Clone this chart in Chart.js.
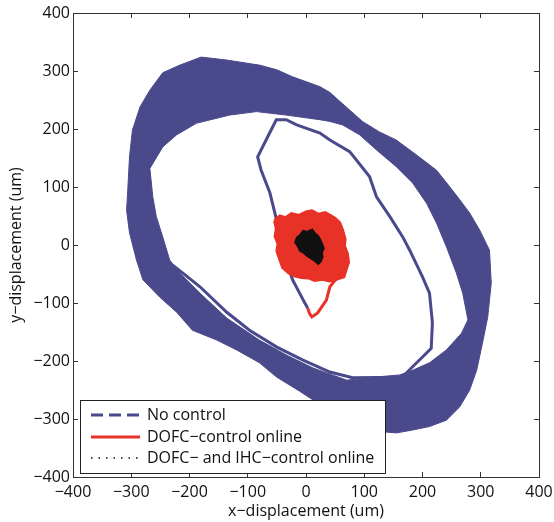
<!DOCTYPE html>
<html><head><meta charset="utf-8">
<script src="https://cdn.jsdelivr.net/npm/chart.js@4/dist/chart.umd.min.js"></script>
<style>html,body{margin:0;padding:0;background:#fff}canvas{display:block}</style>
</head><body>
<canvas id="c" width="554" height="522"></canvas>
<script>
// ---- data (micrometres) ----
const seriesNames = ['No control', 'DOFC\u2212control online', 'DOFC\u2212 and IHC\u2212control online'];
const axisTicks = [-400, -300, -200, -100, 0, 100, 200, 300, 400];

// steady-state "no control" orbit: outer and inner edge of the band
const bandOuter = [[-180,324],[-137,319],[-79,310],[-50,302],[-23,290],[24,273],[41,263],[69,238],[97,213],[126,195],[155,181],[190,155],[224,129],[247,100],[264,78],[281,55],[298,26],[315,-9],[318,-66],[312,-124],[303,-169],[293,-216],[281,-250],[264,-279],[241,-302],[212,-313],[183,-319],[155,-324],[132,-322],[99,-302],[49,-283],[18,-271],[-11,-252],[-50,-228],[-80,-203],[-119,-181],[-153,-164],[-195,-147],[-222,-116],[-251,-90],[-280,-60],[-291,-26],[-303,21],[-308,60],[-306,95],[-303,152],[-298,198],[-285,238],[-268,267],[-246,297],[-217,310]];
const bandInner = [[-217,-48],[-234,-26],[-246,14],[-257,49],[-263,83],[-268,132],[-246,169],[-222,190],[-188,210],[-131,224],[-85,230],[-34,224],[24,216],[41,213],[63,207],[92,190],[121,164],[155,135],[183,107],[207,72],[224,38],[241,-3],[258,-48],[269,-83],[278,-129],[267,-152],[241,-181],[212,-203],[183,-216],[161,-224],[127,-227],[70,-233],[12,-212],[-33,-190],[-80,-164],[-136,-126],[-182,-83]];
// transient first cycle of "no control"
const noControlTransient = [[3,-109],[-2,-100],[-11,-83],[-23,-60],[-33,-31],[-42,-3],[-51,45],[-62,90],[-77,129],[-83,152],[-67,184],[-51,216],[-34,216],[-16,207],[24,193],[41,181],[75,161],[109,118],[121,83],[144,49],[166,14],[178,-9],[200,-55],[212,-83],[217,-134],[215,-178],[200,-193],[183,-210],[172,-221],[166,-228],[80,-229],[41,-219],[-6,-198],[-50,-176],[-97,-147],[-136,-116],[-182,-72],[-212,-48],[-230,-34]];
// DOFC-control online
const dofcStart = [[3,-109],[6,-118],[10,-124],[20,-117],[35,-95],[41,-72],[53,-57]];
const dofcRegion = [[-54,42],[-45,50],[-35,47],[-25,54],[-12,51],[0,57],[10,59],[22,53],[33,56],[42,51],[50,46],[58,38],[63,25],[67,10],[66,-2],[71,-15],[73,-30],[69,-42],[65,-55],[52,-59],[40,-62],[28,-59],[15,-61],[5,-57],[-8,-56],[-20,-53],[-30,-48],[-40,-39],[-45,-25],[-50,-10],[-48,2],[-53,15],[-51,28]];
// DOFC- and IHC-control online
const dofcIhcRegion = [[2,23],[-5,25],[-10,18],[-16,13],[-19,5],[-14,-3],[-11,-10],[-4,-14],[3,-20],[9,-24],[15,-28],[21,-33],[26,-28],[29,-20],[28,-12],[31,-6],[28,2],[25,9],[21,16],[16,20],[11,27],[6,25]];

// ---- helpers ----
const pts = a => a.map(([x, y]) => ({x, y}));
const closed = a => pts(a.concat([a[0]]));
// band as one ring: outer loop, then inner loop traversed the other way
function ring(outer, inner) {
  let best = 0, bd = Infinity;
  inner.forEach(([x, y], i) => {
    const d = (x - outer[0][0]) ** 2 + (y - outer[0][1]) ** 2;
    if (d < bd) { bd = d; best = i; }
  });
  const rev = [];
  for (let k = 0; k <= inner.length; k++) rev.push(inner[(best - k + inner.length * 2) % inner.length]);
  return pts(outer.concat([outer[0]], rev));
}

const BLUE = 'rgb(73,73,140)';
const RED = 'rgb(232,50,40)';
const BLACK = '#111';
const TEXT = '#111';
const FONT = '"Open Sans", "Liberation Sans", sans-serif';
const FSIZE = 16;

const legendStyles = [
  {color: BLUE, width: 3, dash: [12, 6]},
  {color: RED, width: 3, dash: []},
  {color: BLACK, width: 1.5, dash: [1.5, 6]}
];

const boxLegend = {
  id: 'boxLegend',
  afterDraw(chart) {
    const {ctx, chartArea} = chart;
    const left = chartArea.left + 7, top = chartArea.bottom - 77, w = 305, h = 73;
    ctx.save();
    ctx.fillStyle = '#fff';
    ctx.fillRect(left, top, w, h);
    ctx.strokeStyle = '#222';
    ctx.lineWidth = 1;
    ctx.strokeRect(left + 0.5, top + 0.5, w, h);
    const rows = [15, 37, 58];
    seriesNames.forEach((name, i) => {
      const s = legendStyles[i];
      const y = top + rows[i];
      ctx.beginPath();
      ctx.strokeStyle = s.color;
      ctx.lineWidth = s.width;
      ctx.setLineDash(s.dash);
      ctx.moveTo(left + 11, y);
      ctx.lineTo(left + 60, y);
      ctx.stroke();
      ctx.setLineDash([]);
      ctx.fillStyle = TEXT;
      ctx.font = FSIZE + 'px ' + FONT;
      ctx.textBaseline = 'middle';
      ctx.textAlign = 'left';
      ctx.fillText(name, left + 67, y);
    });
    ctx.restore();
  }
};

const fmt = v => (v < 0 ? '\u2212' + Math.abs(v) : String(v));
const setTicks = s => { s.ticks = axisTicks.map(v => ({value: v})); };
const noPad = s => { s.paddingLeft = 0; s.paddingRight = 0; s.paddingTop = 0; s.paddingBottom = 0; };
const gridOpts = {drawOnChartArea: false, drawTicks: true, tickLength: -5, color: '#333', lineWidth: 1};
const borderOpts = {display: true, color: '#333', width: 1};

new Chart(document.getElementById('c'), {
  type: 'scatter',
  data: {
    datasets: [
      {label: seriesNames[2], data: closed(dofcIhcRegion), showLine: true, fill: 'shape', backgroundColor: BLACK, borderColor: BLACK, borderWidth: 1.5, pointRadius: 0, order: 1},
      {label: seriesNames[1], data: closed(dofcRegion), showLine: true, fill: 'shape', backgroundColor: RED, borderColor: RED, borderWidth: 3, pointRadius: 0, order: 2},
      {label: seriesNames[1] + ' start', data: pts(dofcStart), showLine: true, fill: false, borderColor: RED, borderWidth: 3, pointRadius: 0, order: 3},
      {label: seriesNames[0] + ' transient', data: pts(noControlTransient), showLine: true, fill: false, borderColor: BLUE, borderWidth: 3, pointRadius: 0, order: 4},
      {label: seriesNames[0], data: ring(bandOuter, bandInner), showLine: true, fill: 'shape', backgroundColor: BLUE, borderColor: BLUE, borderWidth: 1, pointRadius: 0, order: 5}
    ]
  },
  options: {
    responsive: false,
    animation: false,
    devicePixelRatio: 1,
    layout: {padding: 0, autoPadding: false},
    plugins: {legend: {display: false}, tooltip: {enabled: false}},
    elements: {line: {tension: 0}, point: {radius: 0, hoverRadius: 0}},
    scales: {
      x: {
        type: 'linear', position: 'bottom', min: -400, max: 400,
        afterBuildTicks: setTicks,
        afterFit: s => { s.height = 45; noPad(s); },
        grid: gridOpts, border: borderOpts,
        ticks: {callback: fmt, color: TEXT, padding: 11, maxRotation: 0, font: {family: FONT, size: FSIZE}},
        title: {display: true, text: 'x\u2212displacement (um)', color: TEXT, font: {family: FONT, size: FSIZE}, padding: {top: 0, bottom: 1}}
      },
      y: {
        type: 'linear', position: 'left', min: -400, max: 400,
        afterBuildTicks: setTicks,
        afterFit: s => { s.width = 73; noPad(s); },
        grid: gridOpts, border: borderOpts,
        ticks: {callback: fmt, color: TEXT, padding: 8, font: {family: FONT, size: FSIZE}},
        title: {display: true, text: 'y\u2212displacement (um)', color: TEXT, font: {family: FONT, size: FSIZE}, padding: {top: 7, bottom: 0}}
      },
      x2: {
        type: 'linear', position: 'top', min: -400, max: 400,
        afterBuildTicks: setTicks,
        afterFit: s => { s.height = 13; noPad(s); },
        grid: gridOpts, border: borderOpts,
        ticks: {display: false}
      },
      y2: {
        type: 'linear', position: 'right', min: -400, max: 400,
        afterBuildTicks: setTicks,
        afterFit: s => { s.width = 15; noPad(s); },
        grid: gridOpts, border: borderOpts,
        ticks: {display: false}
      }
    }
  },
  plugins: [boxLegend]
});
</script>
</body></html>
